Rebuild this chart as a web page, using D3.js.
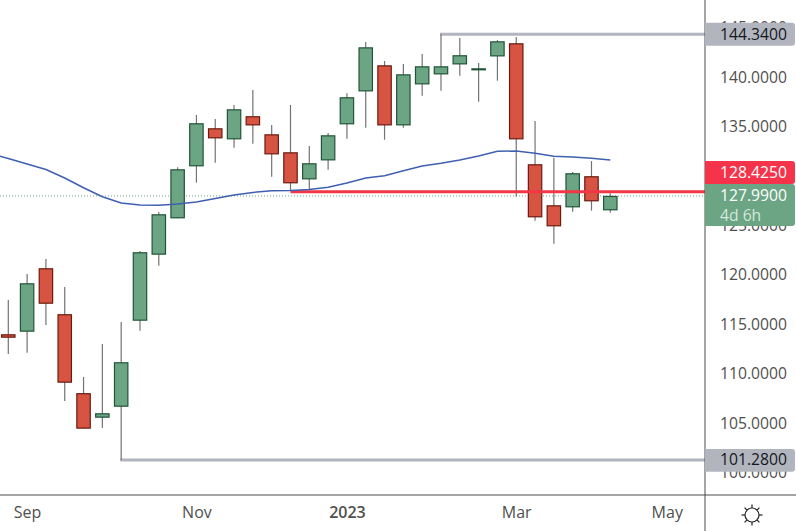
<!DOCTYPE html>
<html lang="en">
<head>
    <meta charset="UTF-8">
    <title>Weekly Candles</title>
    <script src="https://cdn.jsdelivr.net/npm/d3@7"></script>
    <style>
        body { margin: 0; background: #fff; overflow: hidden; }
        text { font-family: "Open Sans", sans-serif; }
    </style>
</head>
<body>
<script type="text/javascript">
    var opens = [113.99, 114.26, 120.67, 116.02, 108.03, 105.56, 106.67, 115.37, 122.05, 125.73, 130.99,
        134.83, 133.72, 136.05, 134.22, 132.40, 129.67, 131.59, 135.24, 138.57, 141.20, 135.13,
        139.28, 140.29, 141.30, 140.70, 142.11, 143.43, 131.19, 127.04, 126.84, 129.98, 126.54];
    var closes = [113.65, 119.15, 117.09, 109.10, 104.45, 106.00, 111.16, 122.29, 126.13, 130.68, 135.34,
        133.82, 136.75, 135.13, 132.20, 129.27, 131.29, 134.12, 137.97, 143.02, 135.13, 140.29,
        141.10, 141.10, 142.22, 140.90, 143.63, 133.72, 125.83, 124.92, 130.28, 127.45, 127.99];
    var highs = [117.46, 120.09, 121.61, 118.78, 109.68, 113.01, 115.24, 122.42, 126.36, 130.89, 136.18,
        135.77, 137.19, 138.71, 135.17, 137.19, 133.04, 134.36, 138.37, 143.56, 141.64, 141.34,
        142.35, 144.34, 143.97, 141.44, 143.76, 144.07, 135.57, 131.86, 130.41, 131.52, 128.26];
    var lows = [112.00, 112.13, 114.94, 107.25, 104.45, 104.52, 101.28, 114.36, 120.93, 125.73, 129.33,
        131.35, 132.87, 133.27, 129.94, 128.52, 128.66, 130.64, 133.78, 134.89, 133.68, 134.89,
        138.13, 138.63, 140.15, 137.52, 139.65, 127.91, 125.48, 123.16, 126.40, 126.50, 126.29];

    // moving average, first value sits one week before the first candle
    var maValues = [132.30, 131.77, 131.22, 130.67, 129.80, 128.82, 127.91, 127.28, 127.07, 127.04, 127.17,
        127.38, 127.73, 128.08, 128.34, 128.52, 128.54, 128.64, 128.86, 129.30, 129.80, 130.04,
        130.54, 131.02, 131.29, 131.62, 132.03, 132.50, 132.54, 132.30, 132.00, 131.93, 131.80, 131.62];

    var priceTicks = [100, 105, 110, 115, 120, 125, 135, 140, 145];
    var monthIndex = [1, 10, 18, 27, 35];
    var monthNames = ["Sep", "Nov", "2023", "Mar", "May"];

    var highLevel = 144.34, highIndex = 23;
    var lowLevel = 101.28, lowIndex = 6;
    var redLevel = 128.425, redIndex = 15;
    var lastPrice = 127.99;

    var w = 796, h = 531, axisX = 705, axisY = 495;
    var bodyWidth = 13.4;

    var x = d3.scaleLinear().domain([0, 32]).range([8.3, 610.3]);
    var y = d3.scaleLinear().domain([100, 145]).range([472.6, 27.8]);

    var svg = d3.select("body").append("svg")
        .attr("width", w)
        .attr("height", h)
        .style("display", "block");

    svg.append("defs").append("clipPath").attr("id", "plot")
        .append("rect").attr("width", axisX).attr("height", axisY);

    var plot = svg.append("g").attr("clip-path", "url(#plot)");

    // last price dotted line
    plot.append("line")
        .attr("x1", 0).attr("x2", axisX)
        .attr("y1", y(lastPrice)).attr("y2", y(lastPrice))
        .attr("stroke", "#6ba583")
        .attr("stroke-width", 1)
        .attr("stroke-dasharray", "1 2");

    // high and low levels
    plot.selectAll(".level")
        .data([[highLevel, highIndex], [lowLevel, lowIndex]])
        .enter().append("line")
        .attr("class", "level")
        .attr("x1", function (d) { return x(d[1]) - 1; })
        .attr("x2", axisX)
        .attr("y1", function (d) { return y(d[0]); })
        .attr("y2", function (d) { return y(d[0]); })
        .attr("stroke", "#b2b5be")
        .attr("stroke-width", 3);

    var candles = d3.range(opens.length);

    plot.selectAll(".wick")
        .data(candles)
        .enter().append("line")
        .attr("class", "wick")
        .attr("x1", function (i) { return x(i); })
        .attr("x2", function (i) { return x(i); })
        .attr("y1", function (i) { return y(highs[i]); })
        .attr("y2", function (i) { return y(lows[i]); })
        .attr("stroke", "#737375")
        .attr("stroke-width", 1.2);

    plot.selectAll(".body")
        .data(candles)
        .enter().append("rect")
        .attr("class", "body")
        .attr("x", function (i) { return x(i) - bodyWidth / 2; })
        .attr("y", function (i) { return y(Math.max(opens[i], closes[i])) + 0.5; })
        .attr("width", bodyWidth)
        .attr("height", function (i) { return Math.abs(y(opens[i]) - y(closes[i])) - 1; })
        .attr("fill", function (i) { return closes[i] >= opens[i] ? "#6ba583" : "#d75442"; })
        .attr("stroke", function (i) { return closes[i] >= opens[i] ? "#225437" : "#6b1a0e"; })
        .attr("stroke-width", 1.2);

    // red level sits over the candles
    plot.append("line")
        .attr("x1", x(redIndex))
        .attr("x2", axisX)
        .attr("y1", y(redLevel)).attr("y2", y(redLevel))
        .attr("stroke", "#f23645")
        .attr("stroke-width", 3);

    var maLine = d3.line()
        .x(function (d, i) { return x(i - 1); })
        .y(function (d) { return y(d); });

    plot.append("path")
        .datum(maValues)
        .attr("fill", "none")
        .attr("stroke", "#3f5fb0")
        .attr("stroke-width", 1.5)
        .attr("d", maLine);

    // axes
    var priceAxis = d3.axisRight(y)
        .tickValues(priceTicks)
        .tickSize(0)
        .tickPadding(15)
        .tickFormat(d3.format(".4f"));

    var priceG = svg.append("g")
        .attr("transform", "translate(" + axisX + ",0)")
        .call(priceAxis);
    priceG.select(".domain").remove();
    priceG.selectAll("text")
        .attr("font-size", 15.7)
        .attr("fill", "#4f4f4f")
        .style("font-family", "\"Open Sans\", sans-serif");

    var timeAxis = d3.axisBottom(x)
        .tickValues(monthIndex)
        .tickSize(0)
        .tickPadding(12)
        .tickFormat(function (d, i) { return monthNames[i]; });

    var timeG = svg.append("g")
        .attr("transform", "translate(0," + axisY + ")")
        .call(timeAxis);
    timeG.select(".domain").remove();
    timeG.selectAll("text")
        .attr("font-size", 16)
        .attr("fill", "#4f4f4f")
        .style("font-family", "\"Open Sans\", sans-serif")
        .attr("font-weight", function (d, i) { return monthNames[i] === "2023" ? 600 : 400; });

    svg.append("line")
        .attr("x1", axisX).attr("x2", axisX).attr("y1", 0).attr("y2", h)
        .attr("stroke", "#4a4a4a").attr("stroke-width", 1);
    svg.append("line")
        .attr("x1", 0).attr("x2", w).attr("y1", axisY).attr("y2", axisY)
        .attr("stroke", "#4a4a4a").attr("stroke-width", 1);

    // price labels on the axis
    function priceTag(top, bottom, fill) {
        svg.append("path")
            .attr("d", "M" + axisX + "," + top + "H792a3,3 0 0 1 3,3V" + (bottom - 3) + "a3,3 0 0 1 -3,3H" + axisX + "Z")
            .attr("fill", fill);
    }
    function tagText(txt, cy, color) {
        svg.append("text")
            .attr("x", 720)
            .attr("y", cy)
            .attr("dy", "0.35em")
            .attr("font-size", 15.7)
            .attr("fill", color)
            .text(txt);
    }

    priceTag(22.7, 45.7, "#b2b5be");
    tagText(d3.format(".4f")(highLevel), y(highLevel), "#131722");
    priceTag(449, 471.7, "#b2b5be");
    tagText(d3.format(".4f")(lowLevel), y(lowLevel), "#131722");
    priceTag(161, 184, "#f5334a");
    tagText(d3.format(".4f")(redLevel), 172.5, "#fff");
    priceTag(184, 226, "#6ba583");
    tagText(d3.format(".4f")(lastPrice), y(lastPrice), "#fff");
    tagText("4d 6h", 215.5, "#d5e6dc");

    // settings icon
    var sun = svg.append("g").attr("transform", "translate(752,515)");
    sun.append("circle").attr("r", 7).attr("fill", "none").attr("stroke", "#222").attr("stroke-width", 1.2);
    sun.selectAll("line")
        .data(d3.range(8))
        .enter().append("line")
        .attr("x1", function (d) { return 7 * Math.cos(d * Math.PI / 4); })
        .attr("y1", function (d) { return 7 * Math.sin(d * Math.PI / 4); })
        .attr("x2", function (d) { return 10.5 * Math.cos(d * Math.PI / 4); })
        .attr("y2", function (d) { return 10.5 * Math.sin(d * Math.PI / 4); })
        .attr("stroke", "#222")
        .attr("stroke-width", 1.2);
</script>
</body>
</html>
